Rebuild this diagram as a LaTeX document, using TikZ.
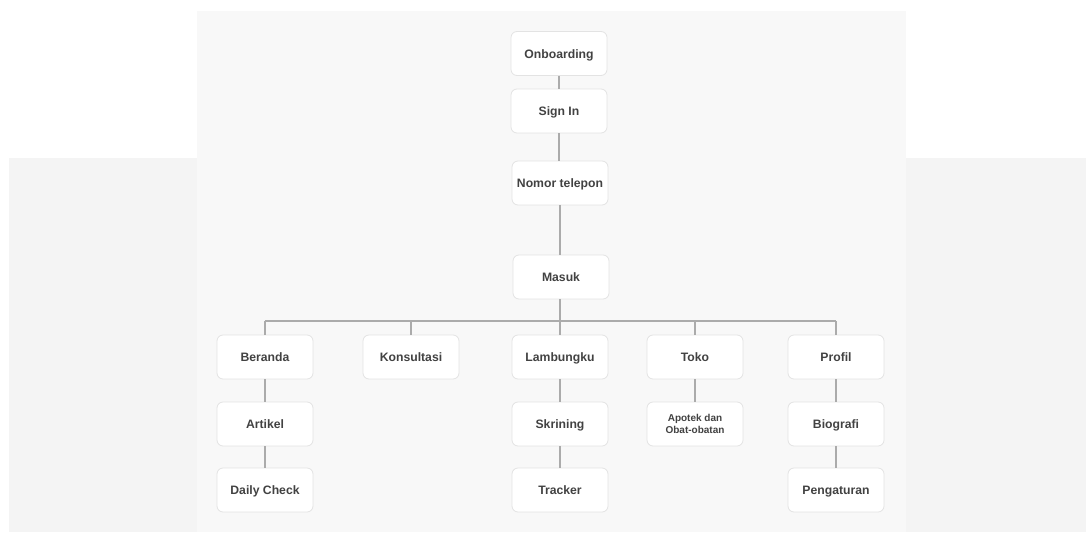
\documentclass[tikz,border=0pt]{standalone}
\usepackage{fontspec}
\setmainfont{Liberation Sans}
\definecolor{outergray}{HTML}{F4F4F4}
\definecolor{innergray}{HTML}{F8F8F8}
\definecolor{boxline}{HTML}{E3E3E3}
\definecolor{linkgray}{HTML}{ABABAB}
\definecolor{labeltext}{HTML}{424242}
\usetikzlibrary{positioning}
\tikzset{
	screennode/.style={
			rectangle,
			rounded corners=6pt,
			draw=boxline,
			line width=0.8pt,
			fill=white,
			minimum width=96pt,
			minimum height=44pt,
			inner sep=0pt,
			align=center,
			text height=10.5pt,
			text depth=1.5pt,
			text=labeltext,
			font=\bfseries\fontsize{12.2}{14}\selectfont
		},
	smallscreennode/.style={
			screennode,
			text height={},
			text depth={},
			font=\bfseries\fontsize{10}{11.5}\selectfont
		},
	link/.style={
			draw=linkgray,
			line width=1.3pt
		}
}

\begin{document}
\begin{tikzpicture}[x=1pt, y=-1pt]
\useasboundingbox (0,0) rectangle (1086,533);
\fill[outergray] (9,158) rectangle (1086,532);
\fill[innergray] (197,11) rectangle (906,532);

\node[screennode] (onboarding) at (559,53.5) {Onboarding};
\node[screennode] (signin) at (559,111) {Sign In};
\node[screennode] (nomor) at (560,183) {Nomor telepon};
\node[screennode] (masuk) at (561,277) {Masuk};

\node[screennode] (beranda) at (265,357) {Beranda};
\node[screennode] (konsultasi) at (411,357) {Konsultasi};
\node[screennode] (lambungku) at (560,357) {Lambungku};
\node[screennode] (toko) at (695,357) {Toko};
\node[screennode] (profil) at (836,357) {Profil};

\node[screennode] (artikel) at (265,424) {Artikel};
\node[screennode] (daily) at (265,490) {Daily Check};
\node[screennode] (skrining) at (560,424) {Skrining};
\node[screennode] (tracker) at (560,490) {Tracker};
\node[smallscreennode] (apotek) at (695,424) {Apotek dan\\Obat-obatan};
\node[screennode] (biografi) at (836,424) {Biografi};
\node[screennode] (pengaturan) at (836,490) {Pengaturan};

\coordinate (busL) at (265,321);
\coordinate (busR) at (836,321);

\draw[link] (onboarding) -- (signin);
\draw[link] (signin) -- (signin |- nomor.north);
\draw[link] (nomor) -- (nomor |- masuk.north);
\draw[link] (masuk.south -| lambungku) -- (lambungku |- busL);
\draw[link] (busL) -- (busR);
\foreach \child in {beranda, konsultasi, lambungku, toko, profil}
	\draw[link] (\child.north) -- (\child |- busL);

\draw[link] (beranda) -- (artikel);
\draw[link] (artikel) -- (daily);
\draw[link] (lambungku) -- (skrining);
\draw[link] (skrining) -- (tracker);
\draw[link] (toko) -- (apotek);
\draw[link] (profil) -- (biografi);
\draw[link] (biografi) -- (pengaturan);
\end{tikzpicture}
\end{document}
